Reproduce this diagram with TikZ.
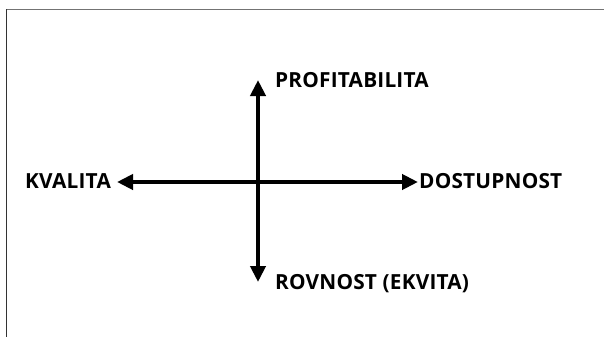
\documentclass[tikz,border=0pt]{standalone}
\usepackage{fontspec}
\setmainfont{Open Sans}[LetterSpace=1]
\usetikzlibrary{arrows.meta}
\begin{document}
\begin{tikzpicture}[x=1pt,y=-1pt,
  axis/.style={line width=4.5pt,{Triangle[length=16pt,width=15pt]}-{Triangle[length=16pt,width=15pt]}},
  lbl/.style={inner sep=0pt,font=\fontsize{20.8pt}{22pt}\selectfont\bfseries}]
  \useasboundingbox (0,0) rectangle (604,337);
  \fill[white] (0,0) rectangle (604,337);
  % frame edges
  \draw[gray!90!black,line width=1pt] (6.5,9.5) -- (604,9.5);
  \draw[black!80,line width=1pt] (6.5,9.5) -- (6.5,337);
  % axis end points
  \coordinate (top) at (258,80);
  \coordinate (bottom) at (258,282);
  \coordinate (left) at (117,182);
  \coordinate (right) at (418,182);
  \draw[axis] (left) -- (right);
  \draw[axis] (bottom) -- (top);
  % labels
  \node[lbl,anchor=base west] (profit) at (275,87) {PROFITABILITA};
  \node[lbl,anchor=base west] (kval) at (25,188) {KVALITA};
  \node[lbl,anchor=base west] (dost) at (419,188) {DOSTUPNOST};
  \node[lbl,anchor=base west] (rovn) at (275,289) {ROVNOST (EKVITA)};
\end{tikzpicture}
\end{document}
